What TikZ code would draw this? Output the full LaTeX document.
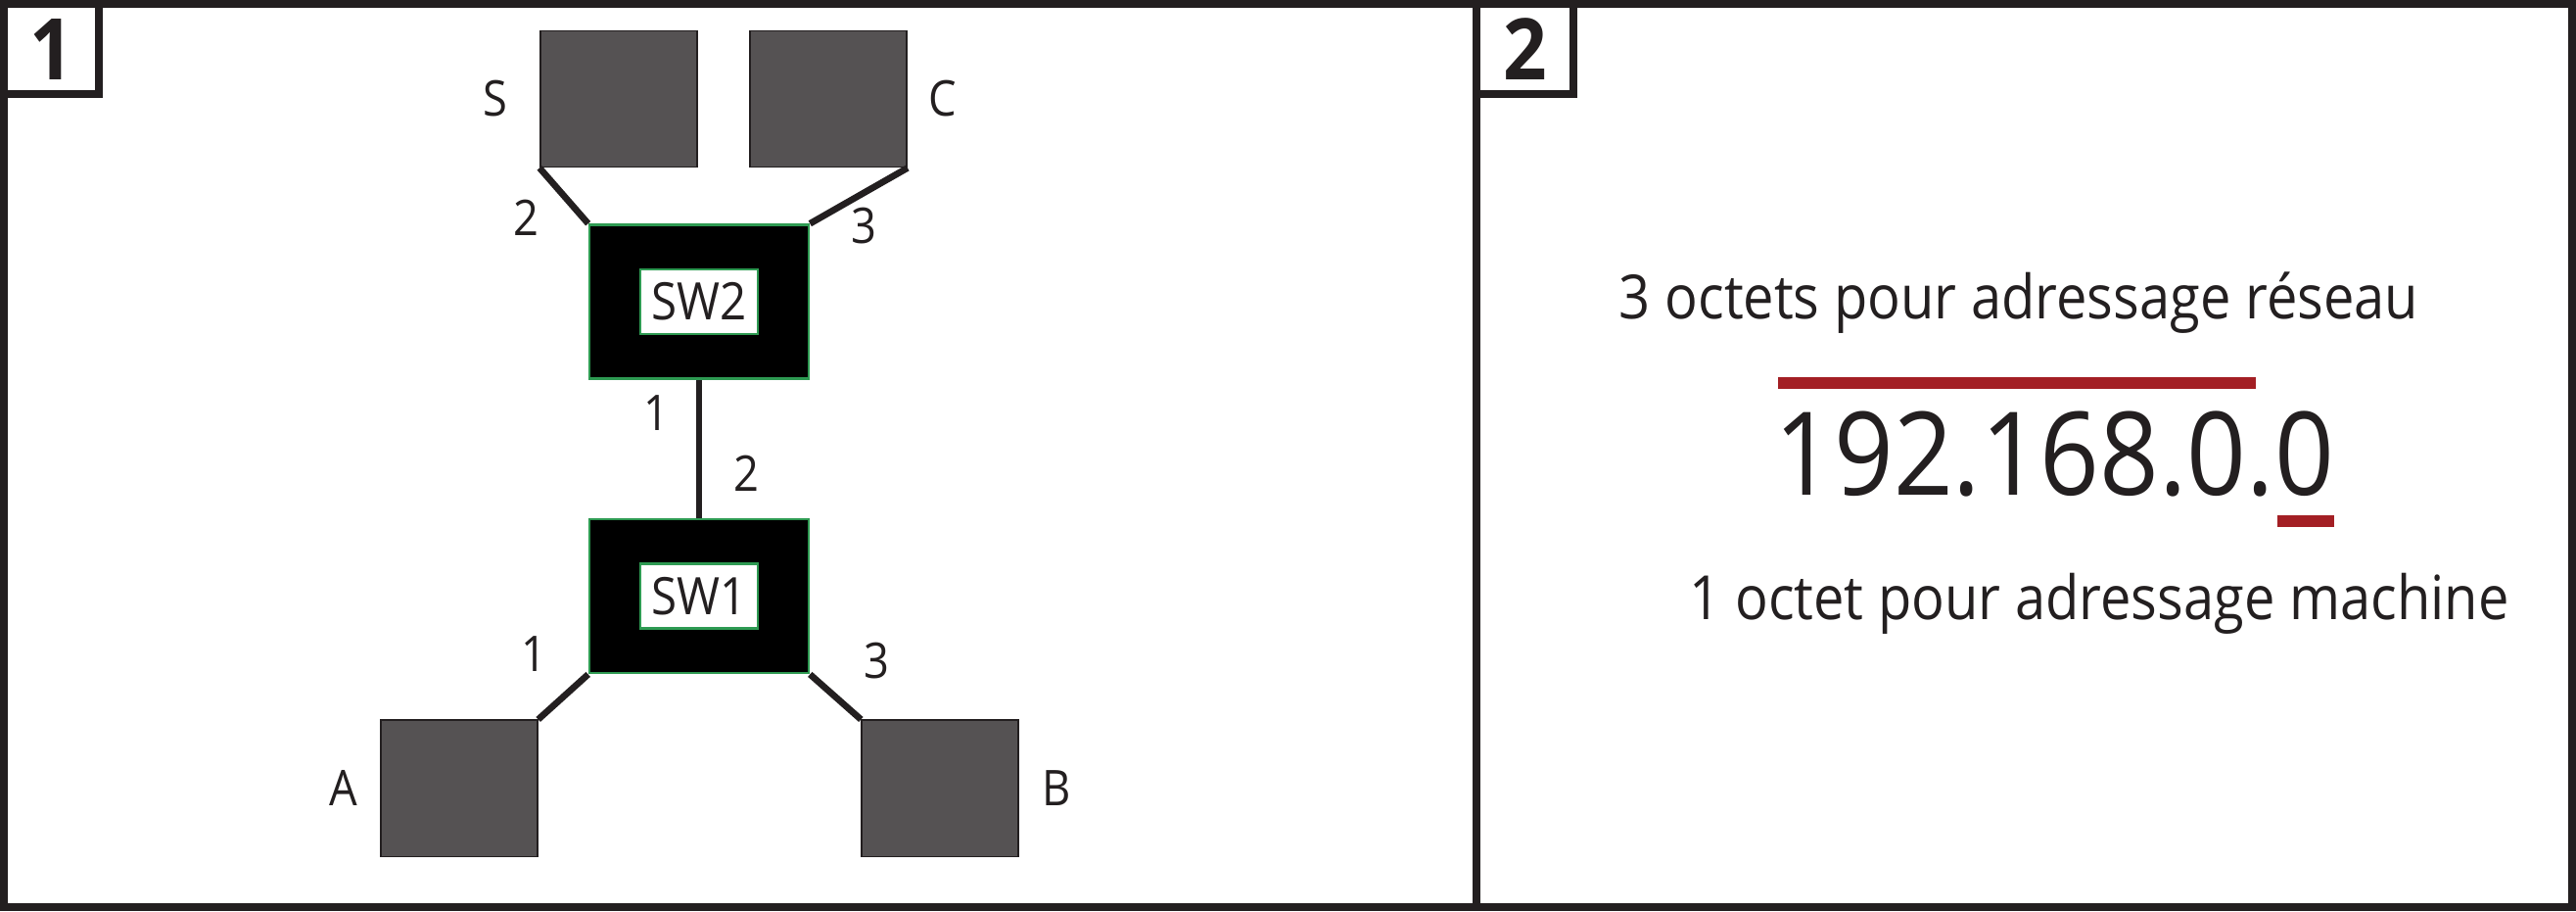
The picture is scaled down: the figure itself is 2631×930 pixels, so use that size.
\documentclass[tikz,border=0pt]{standalone}
\usepackage{fontspec}
\setmainfont{Open Sans}[FakeStretch=0.9]
\usepackage{tikz}
\usetikzlibrary{positioning}
\definecolor{ink}{HTML}{231F20}
\definecolor{hostgray}{HTML}{555253}
\definecolor{edge}{HTML}{2E9A52}
\definecolor{accent}{HTML}{A31F24}

\begin{document}
\begin{tikzpicture}[x=0.01cm, y=-0.01cm, every node/.style={text=ink, inner sep=0pt},
    frame/.style={draw=ink, line width=2.3pt},
    tab/.style={frame, fill=white, font=\fontsize{24.7}{26}\selectfont\bfseries},
    host/.style={draw=ink, line width=.5pt, fill=hostgray, minimum width=1.6cm, minimum height=1.39cm},
    switch/.style={draw=edge, line width=.7pt, fill=black, minimum width=2.24cm, minimum height=1.57cm},
    swtag/.style={draw=edge, line width=.7pt, fill=white, minimum width=1.2cm, minimum height=.66cm, font=\fontsize{15}{16}\selectfont},
    tag/.style={font=\fontsize{14.3}{15}\selectfont},
    caption/.style={font=\fontsize{17.7}{18}\selectfont, anchor=base},
    link/.style={draw=ink, line width=1.9pt}]
    \useasboundingbox (0,0) rectangle (2631,930);
    \draw[frame] (4,4) rectangle (2627,926);
    \draw[frame] (1508,0) -- (1508,930);
    \node[tab, minimum width=.97cm, minimum height=.92cm] (tab1) at (52.5,50) {1};
    \node[tab, minimum width=.99cm, minimum height=.92cm] (tab2) at (1557.5,50) {2};

    \node[host] (S) at (632,101) {};
    \node[host] (C) at (846,101) {};
    \node[switch] (sw2) at (714,308) {};
    \node[swtag] (sw2tag) at (sw2) {SW2};
    \node[switch, below=1.41cm of sw2] (sw1) {};
    \node[swtag] (sw1tag) at (sw1) {SW1};
    \node[host, below left=.46cm and .51cm of sw1] (A) {};
    \node[host, below right=.46cm and .52cm of sw1] (B) {};

    \node[tag, left=.32cm of S] (Slbl) {S};
    \node[tag, right=.21cm of C] (Clbl) {C};
    \node[tag, left=.22cm of A] (Albl) {A};
    \node[tag, right=.23cm of B] (Blbl) {B};

    \draw[link] (S.south west) -- (sw2.north west);
    \draw[link] (C.south east) -- (sw2.north east);
    \draw[link] (sw2.south) -- (sw1.north);
    \draw[link] (sw1.south west) -- (A.north east);
    \draw[link] (sw1.south east) -- (B.north west);

    \node[tag] (p2S) at (537,222) {2};
    \node[tag] (p3C) at (882,231) {3};
    \node[tag] (p1sw2) at (670,422) {1};
    \node[tag] (p2sw1) at (762,483) {2};
    \node[tag] (p1A) at (545,668) {1};
    \node[tag] (p3B) at (895,675) {3};

    \node[caption] (netcap) at (2062,325) {3 octets pour adressage réseau};
    \fill[accent] (1816,385) rectangle (2304,397);
    \node[font=\fontsize{33.6}{34}\selectfont, anchor=base] (addr) at (2098,505) {192.168.0.0};
    \fill[accent] (2326,526) rectangle (2384,538);
    \node[caption] (hostcap) at (2144,632) {1 octet pour adressage machine};
\end{tikzpicture}
\end{document}
